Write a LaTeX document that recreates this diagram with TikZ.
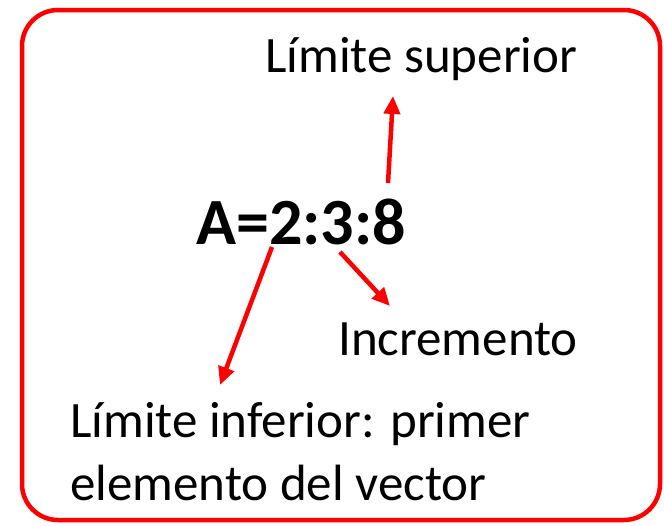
\documentclass[tikz,border=0pt]{standalone}
\usepackage{fontspec}
\setmainfont{Carlito}
\usepackage{tikz}
\usetikzlibrary{arrows.meta,positioning}
\definecolor{redx}{HTML}{FF0000}
\tikzset{
  frm/.style={draw=redx,line width=4.5pt,rounded corners=36pt},
  lbl/.style={anchor=base west,inner sep=0pt,font=\fontsize{51}{63}\selectfont,align=left},
  expr/.style={anchor=base west,inner sep=0pt,font=\fontsize{66}{70}\selectfont\bfseries},
  ar/.style={-{Triangle[length=18pt,width=16pt]},line width=4.5pt,redx}
}
\begin{document}
\begin{tikzpicture}[x=1pt,y=-1pt]
\useasboundingbox (0,0) rectangle (664,525);
\draw[frm] (22,10) rectangle (660,520);
\node[expr] (ex) at (196,244) {A=2:3:8};
\node[lbl] (sup) at (265,72) {Límite superior};
\node[lbl] (inc) at (338,355) {Incremento};
\node[lbl] (inf) at (70,500) {Límite inferior: primer\\elemento del vector};
% puntos de salida y llegada de las flechas
\coordinate (p8) at (388,183);
\coordinate (q8) at (393,96);
\coordinate (p2) at (272,247);
\coordinate (q2) at (220,385);
\coordinate (p3) at (340,252);
\coordinate (q3) at (390,306);
\draw[ar] (p8)--(q8);
\draw[ar] (p2)--(q2);
\draw[ar] (p3)--(q3);
\end{tikzpicture}
\end{document}
